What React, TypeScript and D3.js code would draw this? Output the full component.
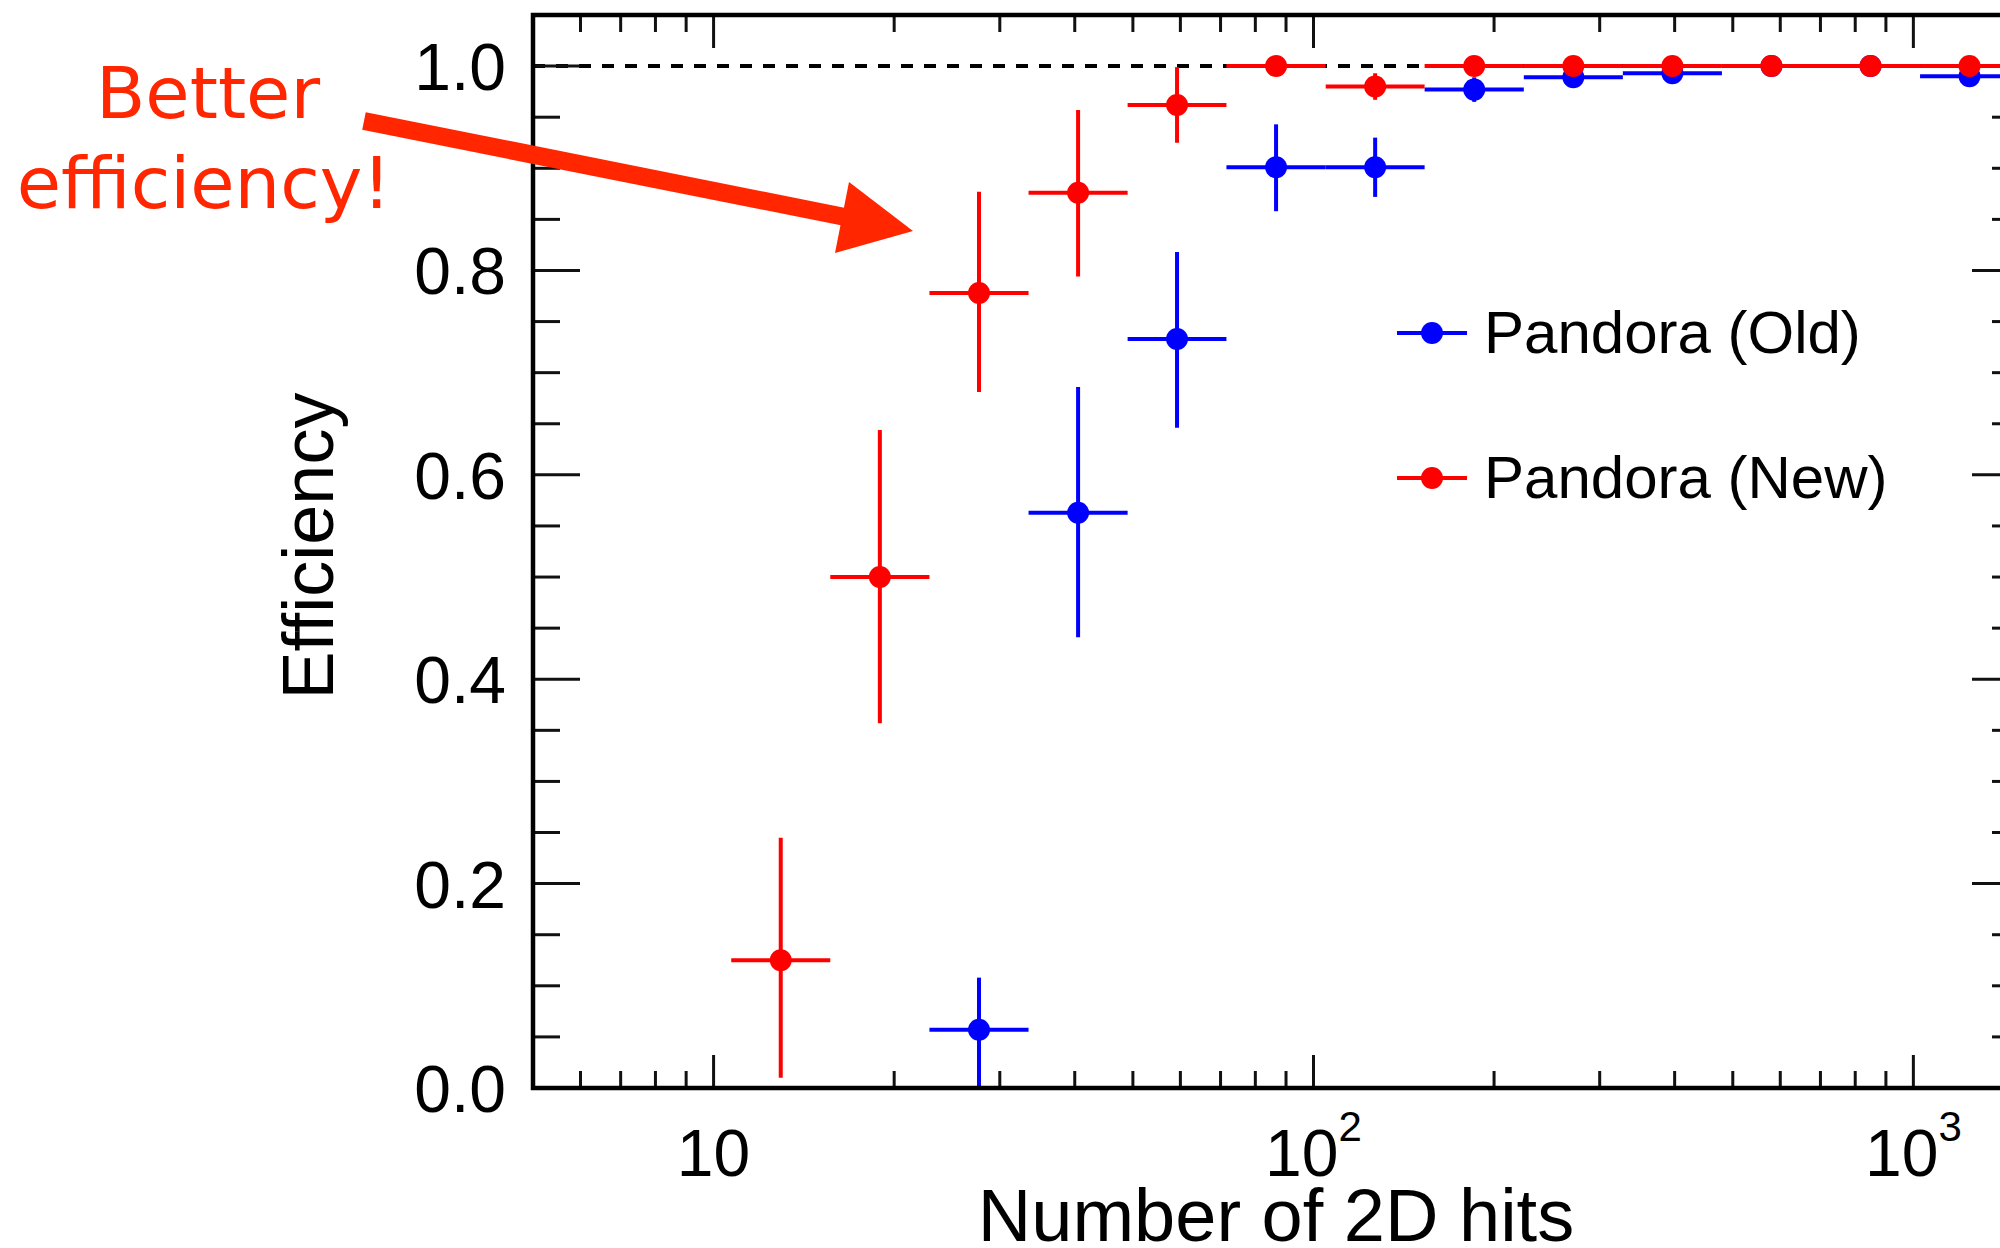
import { useEffect } from 'react';
import * as d3 from 'd3';

// bin edges of the Number of 2D hits histogram (log bins)
const binEdges = [5, 7.31, 10.7, 15.65, 22.9, 33.5, 49, 71.6, 104.8, 153.2, 224.2, 327.9, 479.6, 701.5, 1026, 1500];

// Pandora (Old)
const oldEff = [null, null, null, null, 0.057, 0.563, 0.733, 0.901, 0.901, 0.977, 0.989, 0.993, 1.0, 1.0, 0.99];
const oldErrLow = [0, 0, 0, 0, 0.057, 0.122, 0.087, 0.043, 0.029, 0.012, 0.008, 0.006, 0.005, 0.004, 0.008];
const oldErrHigh = [0, 0, 0, 0, 0.051, 0.123, 0.085, 0.042, 0.029, 0.012, 0.008, 0.006, 0, 0, 0.008];

// Pandora (New)
const newEff = [null, null, 0.125, 0.5, 0.778, 0.876, 0.962, 1.0, 0.98, 1.0, 1.0, 1.0, 1.0, 1.0, 1.0];
const newErrLow = [0, 0, 0.115, 0.143, 0.097, 0.082, 0.037, 0.004, 0.013, 0.004, 0.003, 0.003, 0.003, 0.004, 0.005];
const newErrHigh = [0, 0, 0.12, 0.144, 0.099, 0.081, 0.037, 0, 0.013, 0, 0, 0, 0, 0, 0];

const xMajorTicks = [10, 100, 1000];
const xTickBase = ['10', '10', '10'];
const xTickExp = ['', '2', '3'];
const xMinorTicks = [6, 7, 8, 9, 20, 30, 40, 50, 60, 70, 80, 90, 200, 300, 400, 500, 600, 700, 800, 900];
const yMajorTicks = [0, 0.2, 0.4, 0.6, 0.8, 1.0];
const yTickLabels = ['0.0', '0.2', '0.4', '0.6', '0.8', '1.0'];
const yMinorTicks = [0.05, 0.1, 0.15, 0.25, 0.3, 0.35, 0.45, 0.5, 0.55, 0.65, 0.7, 0.75, 0.85, 0.9, 0.95];

const legendNames = ['Pandora (Old)', 'Pandora (New)'];

const BLUE = '#0000ff';
const RED = '#ff0000';
const NOTE = '#ff2600';
const FONT = '"Liberation Sans", Arial, Helvetica, sans-serif';

const left = 533, right = 2019, top = 15, bottom = 1088;

const x = d3.scaleLog().domain([5, 1500]).range([left, right]);
const y = d3.scaleLinear().domain([0, 1.05]).range([bottom, top]);

type Pt = { lo: number; hi: number; c: number; v: number; el: number; eh: number };

const makePoints = (eff: (number | null)[], el: number[], eh: number[]): Pt[] =>
  eff
    .map((v, i) => ({
      lo: binEdges[i],
      hi: binEdges[i + 1],
      c: Math.sqrt(binEdges[i] * binEdges[i + 1]),
      v: v as number,
      el: el[i],
      eh: eh[i],
      ok: v !== null,
    }))
    .filter((d) => d.ok);

const Series = ({ pts, color }: { pts: Pt[]; color: string }) => (
  <g>
    {pts.map((d, i) => (
      <g key={i}>
        <line x1={x(d.lo)} x2={x(d.hi)} y1={y(d.v)} y2={y(d.v)} stroke={color} strokeWidth={4} />
        <line x1={x(d.c)} x2={x(d.c)} y1={y(d.v - d.el)} y2={y(d.v + d.eh)} stroke={color} strokeWidth={4} />
        <circle cx={x(d.c)} cy={y(d.v)} r={11} fill={color} />
      </g>
    ))}
  </g>
);

const App = () => {
  useEffect(() => {
    document.body.style.margin = '0';
  }, []);

  const oldPts = makePoints(oldEff, oldErrLow, oldErrHigh);
  const newPts = makePoints(newEff, newErrLow, newErrHigh);
  const legendColors = [BLUE, RED];

  return (
    <svg width={2000} height={1248} style={{ display: 'block', background: '#fff' }}>
      {/* reference line at 1 */}
      <line x1={left} x2={right} y1={y(1)} y2={y(1)} stroke="#000" strokeWidth={4} strokeDasharray="12,11" />

      {/* ticks */}
      <g stroke="#111" strokeWidth={3}>
        {xMajorTicks.map((t) => (
          <g key={'xM' + t}>
            <line x1={x(t)} x2={x(t)} y1={bottom} y2={bottom - 33} />
            <line x1={x(t)} x2={x(t)} y1={top} y2={top + 33} />
          </g>
        ))}
        {xMinorTicks.map((t) => (
          <g key={'xm' + t}>
            <line x1={x(t)} x2={x(t)} y1={bottom} y2={bottom - 17} />
            <line x1={x(t)} x2={x(t)} y1={top} y2={top + 17} />
          </g>
        ))}
        {yMajorTicks.map((t) => (
          <g key={'yM' + t}>
            <line x1={left} x2={left + 47} y1={y(t)} y2={y(t)} />
            <line x1={right} x2={right - 47} y1={y(t)} y2={y(t)} />
          </g>
        ))}
        {yMinorTicks.map((t) => (
          <g key={'ym' + t}>
            <line x1={left} x2={left + 27} y1={y(t)} y2={y(t)} />
            <line x1={right} x2={right - 27} y1={y(t)} y2={y(t)} />
          </g>
        ))}
      </g>

      <Series pts={oldPts} color={BLUE} />
      <Series pts={newPts} color={RED} />

      {/* frame */}
      <rect x={left} y={top} width={right - left} height={bottom - top} fill="none" stroke="#000" strokeWidth={4.5} />

      {/* tick labels */}
      <g fontFamily={FONT} fill="#000">
        {yMajorTicks.map((t, i) => (
          <text key={'yl' + t} x={506} y={y(t) + 24} fontSize={66} textAnchor="end">
            {yTickLabels[i]}
          </text>
        ))}
        {xMajorTicks.map((t, i) => (
          <text key={'xl' + t} x={x(t)} y={1176} fontSize={66} textAnchor="middle">
            <tspan>{xTickBase[i]}</tspan>
            {xTickExp[i] && (
              <tspan dy={-35} fontSize={42}>
                {xTickExp[i]}
              </tspan>
            )}
          </text>
        ))}
        <text x={(left + right) / 2} y={1241} fontSize={74} textAnchor="middle">
          Number of 2D hits
        </text>
        <text transform={`translate(333, 546) rotate(-90)`} fontSize={72} textAnchor="middle">
          Efficiency
        </text>
      </g>

      {/* legend */}
      <g fontFamily={FONT}>
        {legendNames.map((n, i) => (
          <g key={n} transform={`translate(0, ${333 + i * 145})`}>
            <line x1={1397} x2={1467} y1={0} y2={0} stroke={legendColors[i]} strokeWidth={4} />
            <circle cx={1432} cy={0} r={11} fill={legendColors[i]} />
            <text x={1484} y={20} fontSize={60} fill="#000">
              {n}
            </text>
          </g>
        ))}
      </g>

      {/* annotation */}
      <g fill={NOTE} fontFamily='"DejaVu Sans", Verdana, sans-serif' fontSize={72} textAnchor="middle">
        <text x={208} y={118}>Better</text>
        <text x={204} y={208}>efficiency!</text>
      </g>
      <line x1={364} y1={121} x2={845} y2={217} stroke={NOTE} strokeWidth={18} />
      <polygon points="849,182 913,231 835,253" fill={NOTE} />
    </svg>
  );
};

export default App;
